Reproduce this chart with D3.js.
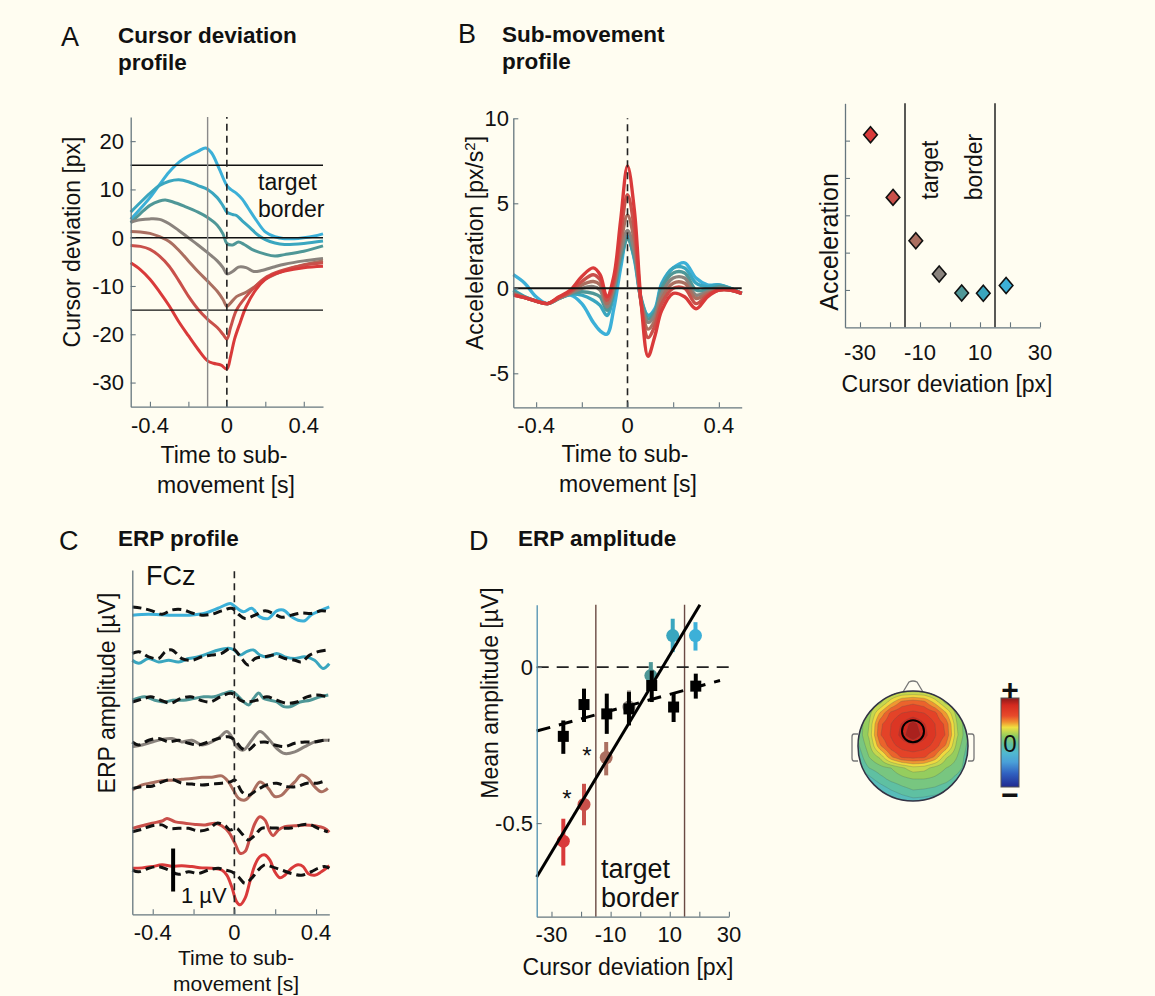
<!DOCTYPE html>
<html><head><meta charset="utf-8">
<script src="https://cdn.jsdelivr.net/npm/d3@7"></script>
<style>
html,body{margin:0;padding:0;background:#fffdf1;}
svg{display:block;font-family:"Liberation Sans",Arial,Helvetica,sans-serif;}
</style></head><body>
<svg id="fig" width="1155" height="996"></svg>
<script>
// ---------------- DATA ----------------
// colour order: red (most negative deviation) -> blue (most positive)
const colors = ['#d93a3a','#c9504a','#ab6f60','#8a837d','#4f9797','#3aa6bf','#3cb0d8'];

// Panel A: cursor deviation profiles [time s, deviation px]
const devRed = [[-0.5,-5.2],[-0.45,-6.6],[-0.4,-8.6],[-0.35,-11.2],[-0.3,-14.1],[-0.25,-17.4],[-0.2,-20.3],[-0.15,-23.1],[-0.1,-25.5],[-0.07,-26],[-0.03,-26.4],[0,-27.2],[0.02,-24.5],[0.04,-21],[0.07,-17.5],[0.1,-14.3],[0.15,-10.8],[0.2,-8.6],[0.25,-7.5],[0.3,-6.9],[0.4,-6.2],[0.5,-5.9]];
const devRedBrown = [[-0.5,-1.6],[-0.45,-1.8],[-0.4,-2.4],[-0.35,-3.8],[-0.3,-5.9],[-0.25,-8.9],[-0.2,-12.1],[-0.15,-14.8],[-0.1,-16.9],[-0.05,-18.6],[-0.02,-20],[0,-21],[0.02,-18.5],[0.05,-15],[0.1,-12.2],[0.15,-10],[0.2,-8.3],[0.25,-7.3],[0.3,-6.6],[0.4,-5.7],[0.5,-5.2]];
const devBrown = [[-0.5,1.3],[-0.45,1.2],[-0.4,0.9],[-0.35,0.2],[-0.3,-0.8],[-0.25,-2.6],[-0.2,-4.8],[-0.15,-7],[-0.1,-9],[-0.05,-11.1],[-0.02,-12.8],[0,-14.2],[0.02,-13.5],[0.05,-12.2],[0.1,-11.3],[0.15,-10],[0.2,-8.6],[0.25,-7.6],[0.3,-6.8],[0.4,-5.6],[0.5,-4.8]];
const devGray = [[-0.5,3.2],[-0.45,3.7],[-0.4,3.9],[-0.35,3.8],[-0.3,2.9],[-0.25,1.5],[-0.2,0],[-0.15,-1.5],[-0.1,-3.1],[-0.05,-4.8],[-0.02,-6.2],[0,-7.5],[0.03,-7],[0.06,-6.1],[0.1,-6.2],[0.14,-7],[0.18,-6.8],[0.25,-6],[0.3,-5.5],[0.4,-4.8],[0.5,-4.3]];
const devTeal = [[-0.5,3.1],[-0.45,5],[-0.4,6.7],[-0.35,7.6],[-0.32,7.8],[-0.28,7.4],[-0.22,6.5],[-0.15,5.3],[-0.1,4.2],[-0.05,2.6],[-0.02,0.8],[0,-1.2],[0.03,-1.5],[0.06,-0.9],[0.09,-1.4],[0.13,-2.4],[0.2,-3.4],[0.25,-3.8],[0.3,-3.5],[0.4,-2.8],[0.5,-1.7]];
const devCyan = [[-0.5,5.3],[-0.45,7.3],[-0.4,9.2],[-0.35,10.8],[-0.3,11.7],[-0.25,12],[-0.2,11.6],[-0.15,10.8],[-0.1,10],[-0.05,8.3],[-0.02,6.6],[0,5.3],[0.03,4.8],[0.05,4.6],[0.08,3.5],[0.12,2.1],[0.16,0.6],[0.2,-0.4],[0.25,-1.1],[0.3,-1.4],[0.4,-1.2],[0.5,-0.7]];
const devBlue = [[-0.5,3.8],[-0.45,6],[-0.4,8.3],[-0.35,11],[-0.3,13.6],[-0.25,15.6],[-0.2,16.9],[-0.15,17.9],[-0.11,18.6],[-0.08,17.6],[-0.04,14.3],[0,10.8],[0.02,10],[0.05,9.2],[0.08,8],[0.11,6.2],[0.15,3.8],[0.2,1.2],[0.25,0.2],[0.3,-0.2],[0.35,-0.2],[0.4,0],[0.45,0.3],[0.5,0.8]];
const devSeries = [devRed,devRedBrown,devBrown,devGray,devTeal,devCyan,devBlue];
const targetBorders = [-15, 15];

// Panel B: sub-movement acceleration profiles
const accTime = [-0.5,-0.45,-0.4,-0.35,-0.3,-0.25,-0.2,-0.15,-0.12,-0.09,-0.06,-0.03,0,0.03,0.06,0.09,0.12,0.15,0.2,0.25,0.3,0.35,0.4,0.45,0.5];
const accRed      = [-0.4,-0.55,-0.75,-0.9,-0.5,-0.1,0.7,1.2,0.8,-0.5,0.7,4.0,7.2,4.6,-0.9,-4.0,-2.8,-1.3,-0.3,-0.5,-1.2,-0.5,-0.1,-0.1,-0.3];
const accRedBrown = [-0.4,-0.55,-0.75,-0.9,-0.55,-0.2,0.4,0.8,0.5,-0.7,0.4,3.2,5.5,3.5,-0.9,-2.9,-2.2,-0.9,0.0,0.0,-0.9,-0.4,-0.1,-0.1,-0.3];
const accBrown    = [-0.35,-0.55,-0.75,-0.9,-0.55,-0.25,0.2,0.4,0.2,-0.9,0.2,2.6,4.3,2.8,-0.9,-2.4,-1.9,-0.6,0.3,0.3,-0.6,-0.3,-0.1,-0.1,-0.3];
const accGray     = [-0.3,-0.55,-0.75,-0.9,-0.6,-0.3,0.0,0.1,-0.1,-1.1,0.0,2.1,3.4,2.2,-0.8,-2.0,-1.6,-0.3,0.6,0.6,-0.4,-0.2,0.0,-0.1,-0.3];
const accTeal     = [-0.2,-0.5,-0.75,-0.9,-0.6,-0.3,-0.2,-0.3,-0.5,-1.3,-0.2,1.8,2.9,1.9,-0.7,-1.8,-1.4,0.0,0.9,0.9,-0.1,-0.1,0.1,0.0,-0.3];
const accCyan     = [-0.1,-0.5,-0.75,-0.9,-0.6,-0.35,-0.4,-0.7,-1.0,-1.6,-0.4,1.6,2.9,1.8,-0.6,-1.6,-1.3,0.2,1.2,1.2,0.3,0.1,0.2,0.0,-0.3];
const accBlue     = [0.8,0.3,-0.5,-0.9,-0.6,-0.4,-0.9,-2.0,-2.5,-2.7,-1.2,1.2,3.1,1.7,-0.7,-1.6,-1.2,0.3,1.2,1.5,0.6,0.2,0.2,0.0,-0.3];
const accSeries = [accRed,accRedBrown,accBrown,accGray,accTeal,accCyan,accBlue];

// Panel B right: peak acceleration per deviation bin
const binDeviation = [-26.5,-19,-11.4,-3.6,3.9,11.1,18.7];
const peakAcc = [7.16,5.48,4.32,3.43,2.92,2.91,3.12];

// Panel C: ERP traces at FCz [time s, µV] (solid = condition, dashed = control), red -> blue
const erpRed = [[-0.5,0.04],[-0.452,0.05],[-0.403,0.08],[-0.354,0.12],[-0.306,0.09],[-0.257,0.1],[-0.208,0.08],[-0.159,0.05],[-0.111,0.04],[-0.062,0],[-0.037,-0.12],[-0.013,-0.39],[0.011,-0.74],[0.028,-0.81],[0.052,-0.66],[0.076,-0.27],[0.101,0.12],[0.125,0.31],[0.15,0.35],[0.174,0.23],[0.198,-0.04],[0.223,-0.18],[0.247,-0.12],[0.28,0.04],[0.312,0.12],[0.337,0.08],[0.361,-0.08],[0.393,-0.12],[0.426,-0.04],[0.465,0.1]];
const ctlRed = [[-0.5,0],[-0.468,-0.04],[-0.42,0.04],[-0.371,0.08],[-0.322,0],[-0.273,-0.1],[-0.224,-0.04],[-0.176,-0.08],[-0.127,0],[-0.078,0.04],[-0.045,0],[-0.013,-0.04],[0.02,-0.16],[0.052,-0.31],[0.085,-0.19],[0.117,0],[0.15,0.12],[0.182,0.08],[0.231,0],[0.28,-0.08],[0.328,-0.12],[0.377,-0.04],[0.41,0.04],[0.442,0.08],[0.465,0.04]];
const erpRedBrown = [[-0.5,-0.03],[-0.452,0.03],[-0.403,0.09],[-0.354,0.14],[-0.33,0.2],[-0.289,0.12],[-0.241,0.09],[-0.192,0.06],[-0.143,0.05],[-0.094,0.09],[-0.062,0.03],[-0.029,-0.11],[0.003,-0.38],[0.028,-0.61],[0.052,-0.57],[0.076,-0.26],[0.101,0.09],[0.125,0.24],[0.15,0.16],[0.174,-0.11],[0.19,-0.2],[0.215,-0.07],[0.247,0.01],[0.296,0.03],[0.345,0.05],[0.393,0.03],[0.442,-0.03],[0.465,-0.12]];
const ctlRedBrown = [[-0.5,-0.11],[-0.452,-0.05],[-0.403,0.03],[-0.354,0.05],[-0.322,-0.03],[-0.273,-0.03],[-0.224,-0.03],[-0.176,-0.09],[-0.127,-0.05],[-0.086,0.09],[-0.045,0.03],[-0.021,-0.07],[0.011,-0.03],[0.036,-0.15],[0.068,-0.3],[0.101,-0.19],[0.133,-0.03],[0.182,-0.02],[0.231,-0.03],[0.28,-0.02],[0.328,0.05],[0.369,0.06],[0.41,-0.03],[0.458,-0.11]];
const erpBrown = [[-0.5,-0.14],[-0.452,-0.02],[-0.403,0.03],[-0.354,0.08],[-0.306,0.09],[-0.257,0.11],[-0.208,0.13],[-0.159,0.16],[-0.111,0.16],[-0.062,0.19],[-0.029,0.05],[-0.005,-0.14],[0.02,-0.33],[0.052,-0.37],[0.085,-0.22],[0.125,0.05],[0.166,-0.1],[0.198,-0.29],[0.231,-0.26],[0.263,-0.1],[0.296,0.05],[0.328,0.21],[0.361,0.13],[0.393,-0.06],[0.426,-0.18],[0.458,-0.1]];
const ctlBrown = [[-0.5,-0.1],[-0.452,-0.06],[-0.403,-0.05],[-0.354,0.05],[-0.306,0.11],[-0.257,0.02],[-0.208,0],[-0.159,-0.02],[-0.111,0],[-0.062,0.02],[-0.021,0.05],[0.003,0.09],[0.037,-0.18],[0.07,-0.26],[0.11,-0.14],[0.159,-0.02],[0.208,0.02],[0.257,-0.06],[0.306,-0.06],[0.356,0.02],[0.405,0.02],[0.454,0.09]];
const erpGray = [[-0.5,-0.13],[-0.452,-0.09],[-0.403,-0.02],[-0.354,0.04],[-0.306,0.06],[-0.257,-0.02],[-0.208,0.02],[-0.159,-0.09],[-0.111,-0.02],[-0.07,0.1],[-0.037,0.22],[-0.013,0.1],[0.011,-0.13],[0.044,-0.21],[0.085,0.02],[0.125,0.22],[0.166,0.06],[0.207,-0.17],[0.247,-0.29],[0.296,-0.25],[0.345,-0.13],[0.393,-0.02],[0.442,0.02],[0.465,0.02]];
const ctlGray = [[-0.5,-0.02],[-0.468,-0.09],[-0.42,0.02],[-0.371,0.06],[-0.322,-0.02],[-0.273,0.02],[-0.224,-0.05],[-0.176,-0.09],[-0.127,-0.02],[-0.078,0.06],[-0.029,0.1],[0.003,0.02],[0.036,-0.17],[0.068,-0.21],[0.109,-0.05],[0.15,-0.02],[0.198,-0.09],[0.247,-0.13],[0.296,-0.05],[0.345,-0.02],[0.393,-0.02],[0.442,0.02],[0.465,0.02]];
const erpTeal = [[-0.5,-0.05],[-0.44,0.03],[-0.39,-0.05],[-0.345,-0.09],[-0.3,-0.05],[-0.25,-0.05],[-0.2,-0.01],[-0.15,0.03],[-0.1,0.03],[-0.05,0.11],[-0.01,0.15],[0.013,0.07],[0.046,-0.09],[0.07,-0.16],[0.094,-0.01],[0.119,0.12],[0.143,-0.01],[0.176,-0.05],[0.208,-0.09],[0.241,-0.2],[0.273,-0.2],[0.322,-0.09],[0.371,-0.05],[0.42,0.03],[0.46,0.07]];
const ctlTeal = [[-0.5,-0.09],[-0.442,-0.01],[-0.41,0.03],[-0.361,-0.05],[-0.312,-0.12],[-0.263,-0.01],[-0.215,0.03],[-0.166,-0.05],[-0.117,-0.09],[-0.068,0.03],[-0.02,0.11],[0.005,0.07],[0.029,-0.05],[0.062,-0.09],[0.11,-0.05],[0.159,0.03],[0.208,-0.05],[0.257,-0.12],[0.306,-0.09],[0.356,0.03],[0.405,0.07],[0.454,0.03]];
const erpCyan = [[-0.5,-0.12],[-0.468,-0.19],[-0.42,-0.08],[-0.371,-0.16],[-0.322,-0.12],[-0.273,-0.16],[-0.224,-0.08],[-0.176,-0.04],[-0.127,0.04],[-0.078,0.12],[-0.029,0.16],[-0.005,0.13],[0.028,0],[0.06,0.08],[0.093,0.12],[0.125,0],[0.166,-0.04],[0.207,0.04],[0.247,-0.04],[0.296,-0.08],[0.345,-0.04],[0.393,-0.12],[0.434,-0.31],[0.465,-0.2]];
const ctlCyan = [[-0.5,0.04],[-0.468,0.08],[-0.42,-0.04],[-0.371,-0.08],[-0.338,0.08],[-0.306,0.12],[-0.257,-0.08],[-0.208,-0.12],[-0.159,-0.04],[-0.111,0],[-0.062,0.04],[-0.021,0.16],[0.003,0.12],[0.036,-0.08],[0.068,-0.23],[0.101,-0.08],[0.15,-0.04],[0.198,0],[0.247,-0.08],[0.296,-0.12],[0.328,-0.16],[0.369,0],[0.41,0.08],[0.458,0.12]];
const erpBlue = [[-0.5,-0.07],[-0.42,-0.05],[-0.32,-0.07],[-0.22,-0.07],[-0.14,-0.02],[-0.08,0.09],[-0.02,0.2],[0,0.14],[0.044,0.01],[0.085,0.09],[0.125,-0.11],[0.166,-0.15],[0.207,0.03],[0.239,0.05],[0.28,-0.11],[0.312,-0.19],[0.345,-0.2],[0.377,-0.06],[0.418,0.03],[0.465,0.12]];
const ctlBlue = [[-0.5,0.12],[-0.452,0.09],[-0.403,0.03],[-0.354,-0.05],[-0.306,0.05],[-0.257,0.06],[-0.208,-0.02],[-0.159,-0.07],[-0.111,-0.05],[-0.062,0.03],[-0.013,0.09],[0.02,-0.05],[0.052,-0.15],[0.101,-0.07],[0.15,0.03],[0.198,-0.05],[0.231,-0.12],[0.28,-0.07],[0.328,-0.02],[0.377,-0.03],[0.426,0.03],[0.465,0.01]];
const erpSeries = [erpRed,erpRedBrown,erpBrown,erpGray,erpTeal,erpCyan,erpBlue];
const ctlSeries = [ctlRed,ctlRedBrown,ctlBrown,ctlGray,ctlTeal,ctlCyan,ctlBlue];

// Panel D: mean ERP amplitude per deviation bin
const ampX    = [-26,-19,-11.5,-3.8,3.6,11,18.7];
const ampMean = [-0.558,-0.44,-0.29,-0.128,-0.027,0.101,0.101];
const ampLo   = [-0.636,-0.507,-0.347,-0.18,-0.075,0.048,0.053];
const ampHi   = [-0.486,-0.374,-0.24,-0.075,0.016,0.155,0.144];
const ctlX    = [-26,-19,-11.3,-3.8,3.9,11.3,18.8];
const ctlMean = [-0.222,-0.12,-0.15,-0.134,-0.059,-0.128,-0.061];
const ctlLo   = [-0.278,-0.176,-0.214,-0.187,-0.112,-0.176,-0.101];
const ctlHi   = [-0.171,-0.069,-0.085,-0.08,-0.011,-0.085,-0.021];
const fitCond = [[-35,-0.673],[20.2,0.2]];
const fitCtrl = [[-35,-0.205],[27,-0.043]];
const starMarks = [[-18,-0.267],[-24.8,-0.404]];

// Topography (rows front -> back, columns left -> right), relative amplitude
const topoGrid = [
 [-0.04,0.035,0.08,0.12,0.16,0.17,0.16,0.12,0.08,0.035,-0.04],
 [-0.05,0.09,0.16,0.36,0.53,0.57,0.53,0.36,0.16,0.09,-0.05],
 [0.0,0.15,0.41,0.63,0.70,0.73,0.70,0.63,0.41,0.15,-0.02],
 [0.02,0.20,0.57,0.70,0.81,0.92,0.81,0.70,0.57,0.20,0.0],
 [0.02,0.22,0.59,0.71,0.84,0.96,0.84,0.71,0.59,0.22,0.0],
 [-0.02,0.16,0.48,0.66,0.74,0.77,0.74,0.66,0.48,0.16,-0.03],
 [-0.08,0.10,0.22,0.48,0.62,0.64,0.62,0.48,0.22,0.10,-0.06],
 [-0.12,0.0,0.06,0.10,0.18,0.26,0.24,0.16,0.10,0.05,-0.06],
 [-0.25,-0.14,-0.04,0.03,0.07,0.10,0.10,0.08,0.04,-0.04,-0.12],
 [-0.36,-0.27,-0.18,-0.10,-0.04,0.0,-0.01,-0.03,-0.08,-0.14,-0.22],
 [-0.45,-0.38,-0.30,-0.24,-0.18,-0.14,-0.15,-0.18,-0.23,-0.28,-0.32]];
const electrodeFCz = [0, -0.27];
const cbarStops = [[0,'#8a1a1a'],[0.08,'#d42a20'],[0.2,'#e84a2a'],[0.27,'#f09030'],[0.33,'#f0e040'],[0.43,'#90cc60'],[0.52,'#60c0a0'],[0.62,'#50b8d0'],[0.72,'#4aa0d8'],[0.85,'#3060c0'],[1,'#202a90']];

// ---------------- DRAWING ----------------
const svg = d3.select('#fig');
svg.append('rect').attr('width',1155).attr('height',996).attr('fill','#fffdf1');
const AX = '#66767e', INK = '#111';

function label(x,y,s,size,o={}){
  const t = svg.append('text').attr('x',x).attr('y',y).attr('font-size',size).attr('fill',INK).text(s);
  if(o.anchor) t.attr('text-anchor',o.anchor);
  if(o.bold) t.attr('font-weight','bold');
  if(o.dy) t.attr('dy',o.dy);
  return t;
}
function vlabel(x,y,s,size){
  return svg.append('text').attr('transform',`translate(${x},${y}) rotate(-90)`)
    .attr('text-anchor','middle').attr('font-size',size).attr('fill',INK).text(s);
}
function frame(x,y,o){
  const g = svg.append('g');
  const x0 = x.range()[0], y0 = y.range()[0];
  g.append('g').attr('transform',`translate(0,${y0})`)
    .call(d3.axisBottom(x).tickValues(o.xt||[]).tickSize(-5).tickSizeOuter(0).tickFormat(''));
  const ly = g.append('g').attr('transform',`translate(${x0},0)`)
    .call(d3.axisLeft(y).tickValues(o.yt||[]).tickSize(-5).tickSizeOuter(0).tickFormat(''));
  g.selectAll('.domain').attr('stroke',AX).attr('stroke-width',1.3);
  g.selectAll('.tick line').attr('stroke',AX).attr('stroke-width',1.1);
  if(o.leftColor) ly.select('.domain').attr('stroke',o.leftColor);
  (o.xl||[]).forEach(v=>label(x(v),o.xly,String(v),o.fs||22,{anchor:'middle'}));
  (o.yl||[]).forEach(v=>label(o.ylx,y(v),String(v),o.fs||22,{anchor:'end',dy:'0.36em'}));
}
function hline(x,y,v,stroke,w,dash){
  const l = svg.append('line').attr('x1',x.range()[0]).attr('x2',x.range()[1]).attr('y1',y(v)).attr('y2',y(v))
    .attr('stroke',stroke).attr('stroke-width',w);
  if(dash) l.attr('stroke-dasharray',dash);
}
function vline(x,y,v,stroke,w,dash){
  const l = svg.append('line').attr('x1',x(v)).attr('x2',x(v)).attr('y1',y.range()[0]).attr('y2',y.range()[1])
    .attr('stroke',stroke).attr('stroke-width',w);
  if(dash) l.attr('stroke-dasharray',dash);
}
const smooth = d3.curveCatmullRom.alpha(0.5);

// ===== Panel A =====
const xA = d3.scaleLinear().domain([-0.5,0.5]).range([130.7,323]);
const yA = d3.scaleLinear().domain([-35,25]).range([406.7,117]);
const lineA = d3.line().x(d=>xA(d[0])).y(d=>yA(d[1])).curve(smooth);
devSeries.slice().reverse().forEach((s,j)=>{
  const i = devSeries.length-1-j;
  svg.append('path').attr('d',lineA(s)).attr('fill','none').attr('stroke',colors[i]).attr('stroke-width',3).attr('stroke-linejoin','round');
});
[targetBorders[1],0,targetBorders[0]].forEach(v=>hline(xA,yA,v,'#111',1.4));
vline(xA,yA,-0.1,'#8a8a8a',1.4);
vline(xA,yA,0,'#222',1.6,'7,5');
frame(xA,yA,{xt:[-0.4,-0.2,0,0.2,0.4],yt:[-30,-20,-10,0,10,20],xl:[-0.4,0,0.4],xly:433,yl:[20,10,0,-10,-20,-30],ylx:124});
label(258,190,'target',23); label(258,217,'border',23);
vlabel(80,242,'Cursor deviation [px]',23);
label(224,463,'Time to sub-',23,{anchor:'middle'});
label(226,493,'movement [s]',23,{anchor:'middle'});
label(61,46,'A',27);
label(118,43,'Cursor deviation',22.5,{bold:true});
label(118,70,'profile',22.5,{bold:true});

// ===== Panel B =====
const xB = d3.scaleLinear().domain([-0.5,0.5]).range([513.3,741.7]);
const yB = d3.scaleLinear().domain([-7,10]).range([407.3,118.3]);
const lineB = d3.line().x((d,k)=>xB(accTime[k])).y(d=>yB(d)).curve(smooth);
accSeries.slice().reverse().forEach((s,j)=>{
  const i = accSeries.length-1-j;
  svg.append('path').attr('d',lineB(s)).attr('fill','none').attr('stroke',colors[i]).attr('stroke-width',3.4).attr('stroke-linejoin','round');
});
hline(xB,yB,0,'#111',2);
vline(xB,yB,0,'#222',1.6,'7,5');
frame(xB,yB,{xt:[-0.4,-0.2,0,0.2,0.4],yt:[-5,0,5,10],xl:[-0.4,0,0.4],xly:433,yl:[10,5,0,-5],ylx:509});
{
  const t = svg.append('text').attr('transform','translate(483,243) rotate(-90)').attr('text-anchor','middle').attr('font-size',23).attr('fill',INK);
  t.append('tspan').text('Acceleleration [px/s');
  t.append('tspan').attr('dy',-8).attr('font-size',15).text('2');
  t.append('tspan').attr('dy',8).text(']');
}
label(625,462,'Time to sub-',23,{anchor:'middle'});
label(628,492,'movement [s]',23,{anchor:'middle'});
label(458,43,'B',27);
label(502,42,'Sub-movement',22.5,{bold:true});
label(502,69,'profile',22.5,{bold:true});

// ===== Panel B right =====
const xS = d3.scaleLinear().domain([-35,30]).range([845,1040]);
const yS = d3.scaleLinear().domain([2,8]).range([327.3,103.3]);
targetBorders.forEach(v=>vline(xS,yS,v,'#222',1.5));
frame(xS,yS,{xt:[-30,-20,-10,0,10,20,30],yt:[3,4,5,6,7],xl:[-30,-10,10,30],xly:360});
binDeviation.forEach((d,i)=>{
  const cx = xS(d), cy = yS(peakAcc[i]);
  svg.append('path').attr('d',`M${cx},${cy-8}L${cx+6.8},${cy}L${cx},${cy+8}L${cx-6.8},${cy}Z`)
    .attr('fill',colors[i]).attr('stroke','#111').attr('stroke-width',1.6);
});
svg.append('text').attr('transform','translate(938,170) rotate(-90)').attr('text-anchor','middle').attr('font-size',23).attr('fill',INK).text('target');
svg.append('text').attr('transform','translate(982,167) rotate(-90)').attr('text-anchor','middle').attr('font-size',23).attr('fill',INK).text('border');
vlabel(838,242,'Acceleration',25);
label(947,392,'Cursor deviation [px]',23,{anchor:'middle'});

// ===== Panel C =====
const xC = d3.scaleLinear().domain([-0.5,0.465]).range([132.3,329.3]);
const yC = d3.scaleLinear().domain([-7.03,0.98]).range([914.3,570]);
const nTr = erpSeries.length;
erpSeries.forEach((s,i)=>{
  const off = -(nTr-1-i);
  const ln = d3.line().x(d=>xC(d[0])).y(d=>yC(d[1]+off)).curve(smooth);
  svg.append('path').attr('d',ln(s)).attr('fill','none').attr('stroke',colors[i]).attr('stroke-width',3);
});
ctlSeries.forEach((s,i)=>{
  const off = -(nTr-1-i);
  const ln = d3.line().x(d=>xC(d[0])).y(d=>yC(d[1]+off)).curve(smooth);
  svg.append('path').attr('d',ln(s)).attr('fill','none').attr('stroke','#111').attr('stroke-width',3).attr('stroke-dasharray','9,5');
});
vline(xC,yC,0,'#222',1.6,'7,5');
frame(xC,yC,{xt:[-0.4,-0.2,0,0.2,0.4],xl:[-0.4,0,0.4],xly:940});
svg.append('line').attr('x1',xC(-0.3)).attr('x2',xC(-0.3)).attr('y1',yC(-5.5)).attr('y2',yC(-6.5)).attr('stroke','#000').attr('stroke-width',4);
label(181,903,'1 µV',22);
label(146,585,'FCz',27);
vlabel(115,693,'ERP amplitude [µV]',23);
label(236,965,'Time to sub-',21,{anchor:'middle'});
label(236,991,'movement [s]',21,{anchor:'middle'});
label(59,550,'C',27);
label(118,546,'ERP profile',22.5,{bold:true});

// ===== Panel D =====
const xD = d3.scaleLinear().domain([-35,30]).range([536.7,728.9]);
const yD = d3.scaleLinear().domain([-0.8,0.2]).range([916.7,604.7]);
targetBorders.forEach(v=>vline(xD,yD,v,'#6a4a44',1.4));
hline(xD,yD,0,'#222',1.6,'12,8');
ampX.forEach((d,i)=>{
  svg.append('line').attr('x1',xD(d)).attr('x2',xD(d)).attr('y1',yD(ampLo[i])).attr('y2',yD(ampHi[i])).attr('stroke',colors[i]).attr('stroke-width',4);
  svg.append('circle').attr('cx',xD(d)).attr('cy',yD(ampMean[i])).attr('r',6.5).attr('fill',colors[i]);
});
const lineD = d3.line().x(d=>xD(d[0])).y(d=>yD(d[1]));
svg.append('path').attr('d',lineD(fitCond)).attr('stroke','#000').attr('stroke-width',3).attr('fill','none');
svg.append('path').attr('d',lineD(fitCtrl)).attr('stroke','#000').attr('stroke-width',3).attr('fill','none').attr('stroke-dasharray','14,9');
ctlX.forEach((d,i)=>{
  svg.append('line').attr('x1',xD(d)).attr('x2',xD(d)).attr('y1',yD(ctlLo[i])).attr('y2',yD(ctlHi[i])).attr('stroke','#000').attr('stroke-width',4);
  svg.append('rect').attr('x',xD(d)-5.5).attr('y',yD(ctlMean[i])-5.5).attr('width',11).attr('height',11).attr('fill','#000');
});
starMarks.forEach(p=>label(xD(p[0]),yD(p[1]),'*',24,{anchor:'middle',dy:'0.57em'}));
frame(xD,yD,{xt:[-30,-20,-10,0,10,20,30],yt:[-0.5,0],xl:[-30,-10,10,30],xly:942,yl:[0,-0.5],ylx:533,leftColor:'#4e8fb0'});
label(601,878,'target',27); label(601,907,'border',27);
vlabel(498,693,'Mean amplitude [µV]',23);
label(628,975,'Cursor deviation [px]',23,{anchor:'middle'});
label(469,550,'D',27);
label(518,546,'ERP amplitude',22.5,{bold:true});

// ===== Topography =====
const headCx = 913, headCy = 746, headR = 55;
const cbarColor = d3.scaleLinear().domain(cbarStops.map(s=>1-2*s[0])).range(cbarStops.map(s=>s[1])).clamp(true);
svg.append('path').attr('d',`M${headCx-10},${headCy-headR+1}L${headCx-4},${headCy-headR-9}Q${headCx},${headCy-headR-11} ${headCx+4},${headCy-headR-9}L${headCx+10},${headCy-headR+1}`)
  .attr('fill','none').attr('stroke','#777').attr('stroke-width',1.3);
[-1,1].forEach(sg=>{
  const ex = headCx + sg*headR;
  svg.append('path').attr('d',`M${ex},${headCy-12}L${ex+sg*4},${headCy-12}Q${ex+sg*6},${headCy-12} ${ex+sg*6},${headCy-9}L${ex+sg*6},${headCy+12}Q${ex+sg*6},${headCy+15} ${ex+sg*4},${headCy+15}L${ex},${headCy+15}`)
    .attr('fill','none').attr('stroke','#777').attr('stroke-width',1.3);
});
const clip = svg.append('clipPath').attr('id','headclip');
clip.append('circle').attr('cx',headCx).attr('cy',headCy).attr('r',headR);
const N = topoGrid.length, UP = 4, M = (N-1)*UP+1;
const vals = new Array(M*M);
for(let j=0;j<M;j++) for(let i=0;i<M;i++){
  const gx=i/UP, gy=j/UP, x0=Math.min(Math.floor(gx),N-2), y0=Math.min(Math.floor(gy),N-2), fx=gx-x0, fy=gy-y0;
  vals[j*M+i] = topoGrid[y0][x0]*(1-fx)*(1-fy)+topoGrid[y0][x0+1]*fx*(1-fy)+topoGrid[y0+1][x0]*(1-fx)*fy+topoGrid[y0+1][x0+1]*fx*fy;
}
const step = 2/(M-1);
const proj = d3.geoTransform({point:function(x,y){ this.stream.point(headCx+(-1+(x-0.5)*step)*headR, headCy+(-1+(y-0.5)*step)*headR); }});
const gpath = d3.geoPath(proj);
const th = [-0.6,-0.4,-0.3,-0.2,-0.1,0,0.1,0.2,0.3,0.4,0.5,0.6,0.7,0.8,0.88];
const cont = d3.contours().size([M,M]).thresholds(th)(vals);
const tg = svg.append('g').attr('clip-path','url(#headclip)');
cont.forEach(c=>{
  tg.append('path').attr('d',gpath(c)).attr('fill',cbarColor(c.value+0.05)).attr('stroke','rgba(70,90,90,0.35)').attr('stroke-width',0.7);
});
svg.append('circle').attr('cx',headCx).attr('cy',headCy).attr('r',headR).attr('fill','none').attr('stroke','#334').attr('stroke-width',1.5);
svg.append('circle').attr('cx',headCx+electrodeFCz[0]*headR).attr('cy',headCy+electrodeFCz[1]*headR).attr('r',11).attr('fill','none').attr('stroke','#000').attr('stroke-width',2);
const defs = svg.append('defs');
const grad = defs.append('linearGradient').attr('id','cbar').attr('x1',0).attr('x2',0).attr('y1',0).attr('y2',1);
cbarStops.forEach(s=>grad.append('stop').attr('offset',s[0]).attr('stop-color',s[1]));
svg.append('rect').attr('x',1001).attr('y',698).attr('width',18).attr('height',89).attr('fill','url(#cbar)').attr('stroke','#555').attr('stroke-width',1);
label(1010,700,'+',30,{anchor:'middle',bold:true});
label(1010,743,'0',24,{anchor:'middle',dy:'0.36em'});
label(1010,805,'−',30,{anchor:'middle',bold:true});
</script></body></html>
